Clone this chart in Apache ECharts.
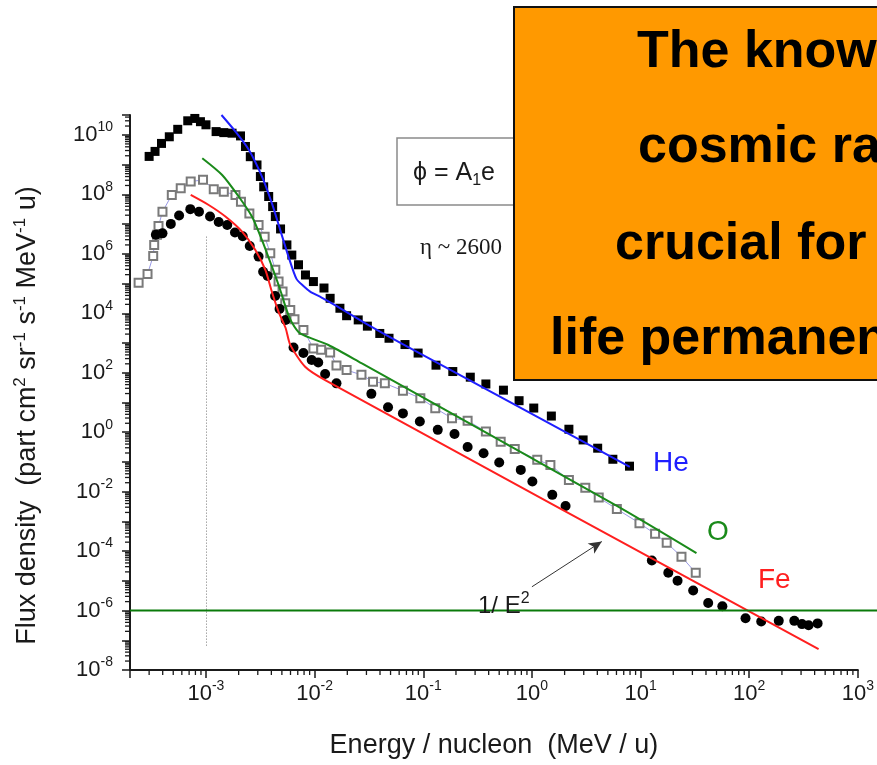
<!DOCTYPE html>
<html>
<head>
<meta charset="utf-8">
<title>Flux density vs energy per nucleon</title>
<script src="https://cdn.jsdelivr.net/npm/echarts@6.0.0/dist/echarts.min.js"></script>
<style>
  html, body { margin: 0; padding: 0; background: #fff; }
  #chart { width: 877px; height: 765px; }
</style>
</head>
<body>
<div id="chart"></div>
<script>
// [energy (MeV/u), flux density]
const heData = [
  [3.0e-4, 1.9e9], [3.4e-4, 2.8e9], [3.9e-4, 5.2e9], [4.6e-4, 8.7e9], [5.5e-4, 1.55e10],
  [6.8e-4, 3.0e10], [7.9e-4, 3.6e10], [8.9e-4, 2.8e10], [1.0e-3, 2.2e10], [1.24e-3, 1.3e10],
  [1.46e-3, 1.2e10], [1.74e-3, 1.15e10], [2.08e-3, 9.3e9], [2.31e-3, 4.1e9], [2.56e-3, 1.86e9],
  [2.95e-3, 9.8e8], [3.17e-3, 4.0e8], [3.40e-3, 1.8e8], [3.78e-3, 8.5e7], [4.11e-3, 3.9e7],
  [4.35e-3, 1.8e7], [4.86e-3, 6.9e6], [5.56e-3, 2.0e6], [6.17e-3, 9.1e5], [7.11e-3, 4.3e5],
  [8.24e-3, 1.95e5], [9.75e-3, 1.17e5], [1.22e-2, 7.1e4], [1.39e-2, 3.2e4], [1.71e-2, 1.48e4],
  [1.97e-2, 8.3e3], [2.52e-2, 6.0e3], [3.06e-2, 3.7e3], [3.98e-2, 2.1e3], [4.84e-2, 1.45e3],
  [6.79e-2, 890], [8.97e-2, 460], [0.131, 180], [0.187, 110], [0.271, 71],
  [0.377, 42], [0.547, 26], [0.762, 11.5], [1.04, 6.5], [1.51, 3.5],
  [2.19, 1.26], [2.96, 0.55], [4.03, 0.29], [5.56, 0.123], [7.91, 0.072]
];
const heFit = [
  [1.39e-3, 4.7e10], [1.87e-3, 1.3e10], [2.48e-3, 3.2e9], [3.28e-3, 4.0e8], [4.05e-3, 5.0e7],
  [4.83e-3, 6.3e6], [5.75e-3, 8.1e5], [6.81e-3, 1.44e5], [7.89e-3, 8.3e4], [9.1e-3, 5.4e4],
  [1.16e-2, 3.4e4], [1.54e-2, 1.9e4], [3.11e-2, 4.1e3], [6.28e-2, 980], [7.96, 0.068]
];
const oData = [
  [2.40e-4, 1.07e5], [2.90e-4, 2.1e5], [3.27e-4, 8.5e5], [3.34e-4, 2.0e6], [3.54e-4, 4.4e6],
  [3.66e-4, 8.7e6], [3.98e-4, 2.6e7], [4.85e-4, 9.6e7], [5.86e-4, 1.6e8], [7.24e-4, 2.7e8],
  [9.4e-4, 3.1e8], [1.18e-3, 1.5e8], [1.46e-3, 1.24e8], [1.87e-3, 9.6e7], [2.10e-3, 5.7e7],
  [2.51e-3, 2.3e7], [3.05e-3, 9.4e6], [3.47e-3, 3.8e6], [3.91e-3, 1.05e6], [4.35e-3, 2.9e5],
  [4.66e-3, 1.17e5], [5.07e-3, 5.4e4], [5.37e-3, 2.2e4], [5.97e-3, 1.29e4], [6.53e-3, 6.3e3],
  [7.89e-3, 2.75e3], [9.75e-3, 660], [1.15e-2, 590], [1.39e-2, 480], [1.59e-2, 174],
  [1.97e-2, 123], [2.70e-2, 85], [3.45e-2, 50], [4.43e-2, 44], [6.5e-2, 25],
  [9.4e-2, 14], [0.129, 6.4], [0.184, 2.95], [0.256, 2.45], [0.377, 1.05],
  [0.516, 0.48], [0.695, 0.27], [1.12, 0.118], [1.48, 0.079], [2.19, 0.0245],
  [3.10, 0.0135], [4.12, 6.3e-3], [6.05, 2.6e-3], [9.77, 8.7e-4], [13.6, 3.8e-4],
  [17.4, 1.9e-4], [23.8, 6.5e-5], [32.2, 1.86e-5]
];
const oFit = [
  [9.25e-4, 1.65e9], [1.41e-3, 4.5e8], [2.0e-3, 8.5e7], [2.65e-3, 1.8e7], [3.28e-3, 2.9e6],
  [4.05e-3, 3.7e5], [4.83e-3, 6.1e4], [5.52e-3, 1.3e4], [6.14e-3, 5.1e3], [7.36e-3, 2.1e3],
  [1.34e-2, 860], [2.70e-2, 210], [6.05, 3.3e-3], [32.7, 8.5e-5]
];
const feData = [
  [3.46e-4, 4.4e6], [3.98e-4, 4.9e6], [4.75e-4, 1.02e7], [5.66e-4, 1.95e7], [7.18e-4, 3.2e7],
  [8.63e-4, 2.6e7], [1.09e-3, 1.8e7], [1.31e-3, 1.18e7], [1.57e-3, 9.4e6], [1.85e-3, 5.2e6],
  [2.18e-3, 3.9e6], [2.53e-3, 1.85e6], [3.05e-3, 8.1e5], [3.36e-3, 2.5e5], [3.70e-3, 1.8e5],
  [4.33e-3, 3.8e4], [4.76e-3, 1.41e4], [5.41e-3, 6.0e3], [6.40e-3, 710], [7.89e-3, 460],
  [9.4e-3, 270], [1.08e-2, 220], [1.25e-2, 91], [1.59e-2, 44], [3.33e-2, 19.5],
  [4.74e-2, 6.9], [6.5e-2, 4.3], [9.3e-2, 2.3], [0.136, 1.2], [0.194, 0.87],
  [0.256, 0.32], [0.359, 0.195], [0.50, 0.096], [0.79, 0.054], [1.01, 0.022],
  [1.54, 7.8e-3], [2.04, 3.3e-3], [12.7, 4.8e-5], [18.0, 1.86e-5], [21.9, 1.0e-5],
  [30.5, 4.7e-6], [41.9, 1.8e-6], [56.6, 1.4e-6], [92.5, 5.5e-7], [129, 4.3e-7],
  [187, 4.5e-7], [260, 4.5e-7], [306, 3.5e-7], [352, 3.2e-7], [426, 3.7e-7]
];
const feFit = [
  [7.24e-4, 9.6e7], [1.06e-3, 4.4e7], [1.51e-3, 1.8e7], [2.15e-3, 5.6e6], [2.85e-3, 1.35e6],
  [3.52e-3, 2.9e5], [4.05e-3, 5.2e4], [4.66e-3, 1.12e4], [5.41e-3, 3.2e3], [5.97e-3, 870],
  [8.18e-3, 160], [1.25e-2, 57], [435, 5.0e-8]
];
// annotations in data coordinates
const peakMarker = [[1e-3, 3.8e6], [1e-3, 6e-8]];
const arrowLine = [[1.0, 6.3e-6], [4.4, 2.1e-4]];
const threshold = 1e-6;

// axis labels (powers of ten)
const xLabelExps = [-3, -2, -1, 0, 1, 2, 3];
const yLabelExps = [-8, -6, -4, -2, 0, 2, 4, 6, 8, 10];
const X_MIN = 2e-4, X_MAX = 1e3, Y_MIN = 1e-8, Y_MAX = 4.7e10;

const FONT = '"Liberation Sans", Arial, sans-serif';
const INK = '#1a1a1a';

// minor log ticks 2..9 x 10^k
const logMinor = (lo, hi) => {
  const out = [];
  for (let k = Math.floor(Math.log10(lo)); k <= Math.ceil(Math.log10(hi)); k++) {
    for (let m = 2; m <= 9; m++) {
      const v = m * Math.pow(10, k);
      if (v > lo * 1.0001 && v < hi) out.push(v);
    }
  }
  return out;
};
const xMinor = logMinor(X_MIN, X_MAX);
const yMinor = logMinor(Y_MIN, Y_MAX);

const powLabel = (shown) => (v) => {
  const lg = Math.log10(v);
  const e = Math.round(lg);
  if (Math.abs(lg - e) > 1e-6 || shown.indexOf(e) < 0) return '';
  return '{b|10}{s|' + e + '}';
};
const labelRich = {
  b: { fontFamily: FONT, fontSize: 22, color: INK },
  s: { fontFamily: FONT, fontSize: 14, color: INK, padding: [0, 0, 15, 0] }
};

const chart = echarts.init(document.getElementById('chart'));

const option = {
  animation: false,
  backgroundColor: '#fff',
  grid: { left: 130, right: 15, top: 115, bottom: 95 },
  xAxis: {
    type: 'log',
    logBase: 10,
    min: X_MIN,
    max: X_MAX,
    name: 'Energy / nucleon  (MeV / u)',
    nameLocation: 'middle',
    nameGap: 62,
    nameTextStyle: { fontFamily: FONT, fontSize: 27, color: INK },
    axisLine: { lineStyle: { color: INK, width: 2 } },
    axisTick: { length: 8, lineStyle: { color: INK, width: 1.5 } },
    axisLabel: { margin: 9, formatter: powLabel(xLabelExps), rich: labelRich },
    splitLine: { show: false }
  },
  yAxis: {
    type: 'log',
    logBase: 10,
    min: Y_MIN,
    max: Y_MAX,
    interval: 1,
    name: 'Flux density  (part cm{s|2} sr{s|-1} s{s|-1} MeV{s|-1} u)',
    nameLocation: 'middle',
    nameRotate: 90,
    nameGap: 86,
    nameTextStyle: {
      fontFamily: FONT, fontSize: 27, color: INK, padding: [0, 46, 0, 0],
      rich: { s: { fontFamily: FONT, fontSize: 17, color: INK, padding: [0, 0, 15, 0] } }
    },
    axisLine: { lineStyle: { color: INK, width: 2 } },
    axisTick: { length: 8, lineStyle: { color: INK, width: 1.5 } },
    axisLabel: { margin: 17, formatter: powLabel(yLabelExps), rich: labelRich },
    splitLine: { show: false }
  },
  series: [
    {
      name: 'x minor ticks',
      type: 'custom',
      silent: true,
      clip: false,
      data: xMinor.map(v => [v, Y_MIN]),
      renderItem: (params, api) => {
        const p = api.coord([api.value(0), Y_MIN]);
        return { type: 'line', shape: { x1: p[0], y1: p[1], x2: p[0], y2: p[1] + 5 },
          style: { stroke: INK, lineWidth: 1.3 } };
      }
    },
    {
      name: 'y minor ticks',
      type: 'custom',
      silent: true,
      clip: false,
      data: yMinor.map(v => [X_MIN, v]),
      renderItem: (params, api) => {
        const p = api.coord([X_MIN, api.value(1)]);
        return { type: 'line', shape: { x1: p[0] - 5, y1: p[1], x2: p[0], y2: p[1] },
          style: { stroke: INK, lineWidth: 1.3 } };
      }
    },
    {
      name: 'He',
      type: 'scatter',
      data: heData,
      symbol: 'rect',
      symbolSize: 9,
      itemStyle: { color: '#000', opacity: 1 },
      z: 3
    },
    {
      name: 'O',
      type: 'line',
      data: oData,
      symbol: 'emptyRect',
      symbolSize: 8,
      itemStyle: { color: '#7a7a7a', borderWidth: 1.2 },
      lineStyle: { color: '#9a9ae6', width: 1 },
      z: 3
    },
    {
      name: 'Fe',
      type: 'scatter',
      data: feData,
      symbol: 'circle',
      symbolSize: 10,
      itemStyle: { color: '#000', opacity: 1 },
      z: 3
    },
    {
      name: 'He fit',
      type: 'line',
      data: heFit,
      showSymbol: false,
      smooth: 0.25,
      lineStyle: { color: '#1f1fff', width: 2 },
      z: 4
    },
    {
      name: 'O fit',
      type: 'line',
      data: oFit,
      showSymbol: false,
      smooth: 0.25,
      lineStyle: { color: '#1a8a1a', width: 2 },
      z: 4
    },
    {
      name: 'Fe fit',
      type: 'line',
      data: feFit,
      showSymbol: false,
      smooth: 0.25,
      lineStyle: { color: '#ff1f1f', width: 2 },
      z: 4,
      markLine: {
        silent: true,
        animation: false,
        label: { show: false },
        symbol: ['none', 'none'],
        data: [
          [
            { coord: peakMarker[0], symbol: 'none',
              lineStyle: { color: '#777', type: [1, 2], width: 1 } },
            { coord: peakMarker[1], symbol: 'none' }
          ],
          [
            { coord: arrowLine[0], symbol: 'none', lineStyle: { color: '#333', type: 'solid', width: 1 } },
            { coord: arrowLine[1], symbol: 'arrow', symbolSize: [9, 13] }
          ]
        ]
      }
    }
  ]
};

chart.setOption(option);

// overlay: threshold line, curve labels, formula box and the orange note box
const yThr = chart.convertToPixel({ gridIndex: 0 }, [1, threshold])[1];
const gridLeft = chart.convertToPixel({ gridIndex: 0 }, [X_MIN, threshold])[0];

chart.setOption({
  graphic: [
    { type: 'line', z: 10, shape: { x1: gridLeft, y1: yThr, x2: 877, y2: yThr },
      style: { stroke: '#0a7a0a', lineWidth: 2 } },
    { type: 'text', z: 10, x: 653, y: 463,
      style: { text: 'He', font: '28px ' + FONT, fill: '#1f1fff', verticalAlign: 'middle' } },
    { type: 'text', z: 10, x: 707, y: 532,
      style: { text: 'O', font: '28px ' + FONT, fill: '#1a8a1a', verticalAlign: 'middle' } },
    { type: 'text', z: 10, x: 758, y: 580,
      style: { text: 'Fe', font: '28px ' + FONT, fill: '#ff1f1f', verticalAlign: 'middle' } },
    { type: 'text', z: 10, x: 478, y: 606,
      style: {
        text: '{t|1/ E}{s|2}', verticalAlign: 'middle',
        rich: {
          t: { fontFamily: FONT, fontSize: 24, fill: INK },
          s: { fontFamily: FONT, fontSize: 16, fill: INK, padding: [0, 0, 15, 0] }
        }
      } },
    { type: 'rect', z: 20, shape: { x: 397, y: 138, width: 200, height: 67 },
      style: { fill: '#fff', stroke: '#8a8a8a', lineWidth: 1.5 } },
    { type: 'text', z: 21, x: 413, y: 173,
      style: {
        text: '{t|ϕ = A}{u|1}{t|e}', verticalAlign: 'middle',
        rich: {
          t: { fontFamily: FONT, fontSize: 25, fill: INK },
          u: { fontFamily: FONT, fontSize: 16, fill: INK, padding: [15, 0, 0, 0] }
        }
      } },
    { type: 'text', z: 21, x: 420, y: 248,
      style: { text: 'η ~ 2600', font: '23px "Liberation Serif", "Times New Roman", serif',
        fill: INK, verticalAlign: 'middle' } },
    { type: 'rect', z: 100, shape: { x: 514, y: 7, width: 420, height: 373 },
      style: { fill: '#ff9900', stroke: '#111', lineWidth: 2 } },
    { type: 'text', z: 101, x: 637, y: 53,
      style: { text: 'The knowledge', font: 'bold 52px ' + FONT, fill: '#000', verticalAlign: 'middle' } },
    { type: 'text', z: 101, x: 638, y: 148,
      style: { text: 'cosmic radiation', font: 'bold 52px ' + FONT, fill: '#000', verticalAlign: 'middle' } },
    { type: 'text', z: 101, x: 615, y: 245,
      style: { text: 'crucial for', font: 'bold 52px ' + FONT, fill: '#000', verticalAlign: 'middle' } },
    { type: 'text', z: 101, x: 550, y: 340,
      style: { text: 'life permanence', font: 'bold 52px ' + FONT, fill: '#000', verticalAlign: 'middle' } }
  ]
});

window.addEventListener('resize', () => chart.resize());
</script>
</body>
</html>
